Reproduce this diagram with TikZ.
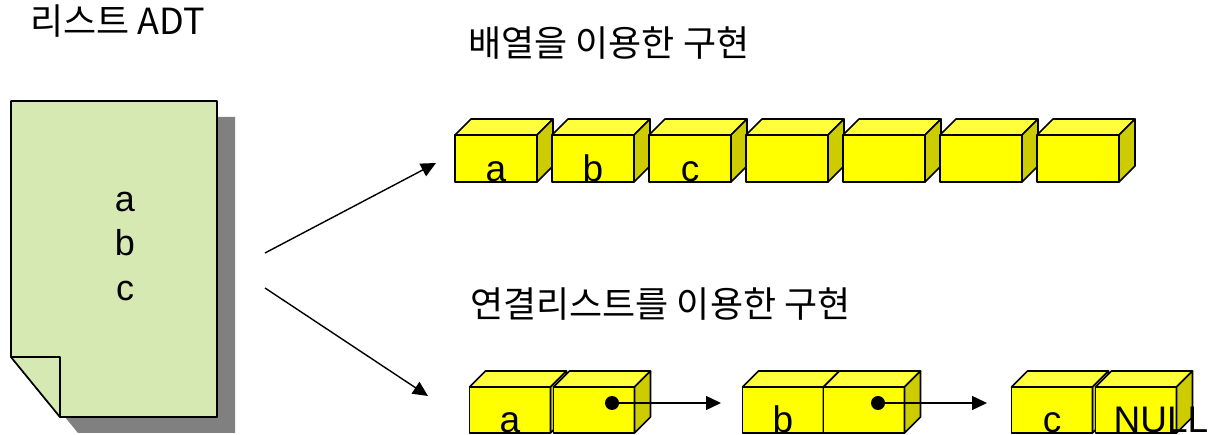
\documentclass[tikz,border=0pt]{standalone}
\usepackage{fontspec}
\setmainfont{Liberation Sans}
\newfontfamily\kr{Noto Sans CJK KR}
\usetikzlibrary{arrows.meta}
\definecolor{pagefill}{RGB}{215,233,179}
\definecolor{shadowgray}{RGB}{128,128,128}
\definecolor{cubefrontc}{RGB}{255,255,0}
\definecolor{cubetopc}{RGB}{255,255,60}
\definecolor{cubesidec}{RGB}{204,204,0}
\tikzset{
  cubefront/.style={draw=black, line width=1.6pt, fill=cubefrontc, inner sep=0pt, outer sep=0pt, line join=round},
  cubetop/.style={draw=black, line width=1.6pt, fill=cubetopc, line join=round},
  cubeside/.style={draw=black, line width=1.6pt, fill=cubesidec, line join=round},
  boxlbl/.style={font=\fontsize{37}{40}\selectfont, inner sep=0pt, anchor=base},
  doclbl/.style={font=\fontsize{36}{40}\selectfont, inner sep=0pt, anchor=base},
  title/.style={font=\kr\fontsize{36}{40}\selectfont, inner sep=0pt, anchor=base west},
  arr/.style={line width=1.4pt, -{Triangle[length=15pt,width=14pt]}},
  ptrdot/.style={circle, fill=black, inner sep=0pt, minimum size=14pt}
}
% #1 name, #2 cx, #3 cy, #4 w, #5 h, #6 depth
\newcommand\cubebox[6]{%
  \node[cubefront, minimum width=#4, minimum height=#5] (#1) at (#2,#3) {};
  \filldraw[cubetop] (#1.north west) -- ++(#6,-#6) -- ++(#4,0) -- (#1.north east) -- cycle;
  \filldraw[cubeside] (#1.north east) -- ++(#6,-#6) -- ++(0,#5) -- (#1.south east) -- cycle;
}
\begin{document}
\begin{tikzpicture}[x=1pt,y=-1pt]
\useasboundingbox (0,0) rectangle (1208,435);
% titles
\node[title] (t0) at (30,35) {리스트 ADT};
\node[title] (t1) at (468,57) {배열을 이용한 구현};
\node[title] (t2) at (470,318) {연결리스트를 이용한 구현};
% document with shadow
\fill[shadowgray] (29,117) -- (235,117) -- (235,433) -- (78,433) -- (29,373) -- cycle;
\filldraw[fill=pagefill, draw=black, line width=1.6pt, line join=round]
  (11,101) -- (217,101) -- (217,417) -- (60,417) -- (11,357) -- cycle;
\filldraw[fill=pagefill, draw=black, line width=1.6pt, line join=round]
  (11,357) -- (60,357) -- (60,417) -- cycle;
\node[doclbl] (da) at (125,212) {a};
\node[doclbl] (db) at (125,256) {b};
\node[doclbl] (dc) at (125,301) {c};
% arrows from document
\coordinate (s1) at (265,253);
\coordinate (e1) at (436,163);
\coordinate (s2) at (265,288);
\coordinate (e2) at (428,396);
\draw[arr] (s1) -- (e1);
\draw[arr] (s2) -- (e2);
% array
\cubebox{ar1}{496}{158.5}{82}{47}{16}
\cubebox{ar2}{593}{158.5}{82}{47}{16}
\cubebox{ar3}{690}{158.5}{82}{47}{16}
\cubebox{ar4}{787}{158.5}{82}{47}{16}
\cubebox{ar5}{884}{158.5}{82}{47}{16}
\cubebox{ar6}{981}{158.5}{82}{47}{16}
\cubebox{ar7}{1078}{158.5}{82}{47}{16}
\node[boxlbl] (la1) at (ar1.south) {a};
\node[boxlbl] (la2) at (ar2.south) {b};
\node[boxlbl] (la3) at (ar3.south) {c};
% linked list
\cubebox{na}{510}{410}{81}{46}{16}
\cubebox{pa}{594}{410}{81}{46}{16}
\cubebox{nb}{783}{410}{81}{46}{16}
\cubebox{pb}{864}{410}{81}{46}{16}
\cubebox{nc}{1052}{410}{81}{46}{16}
\cubebox{pc}{1136}{410}{81}{46}{16}
\node[boxlbl] (ln1) at (na.south) {a};
\node[boxlbl] (ln2) at (nb.south) {b};
\node[boxlbl] (ln3) at (nc.south) {c};
\node[boxlbl] (lnull) at (1161,433) {NULL};
\node[ptrdot] (d1) at (612,403) {};
\node[ptrdot] (d2) at (878,403) {};
\coordinate (q1) at (721,403);
\coordinate (q2) at (987,403);
\draw[arr] (d1.center) -- (q1);
\draw[arr] (d2.center) -- (q2);
\end{tikzpicture}
\end{document}
